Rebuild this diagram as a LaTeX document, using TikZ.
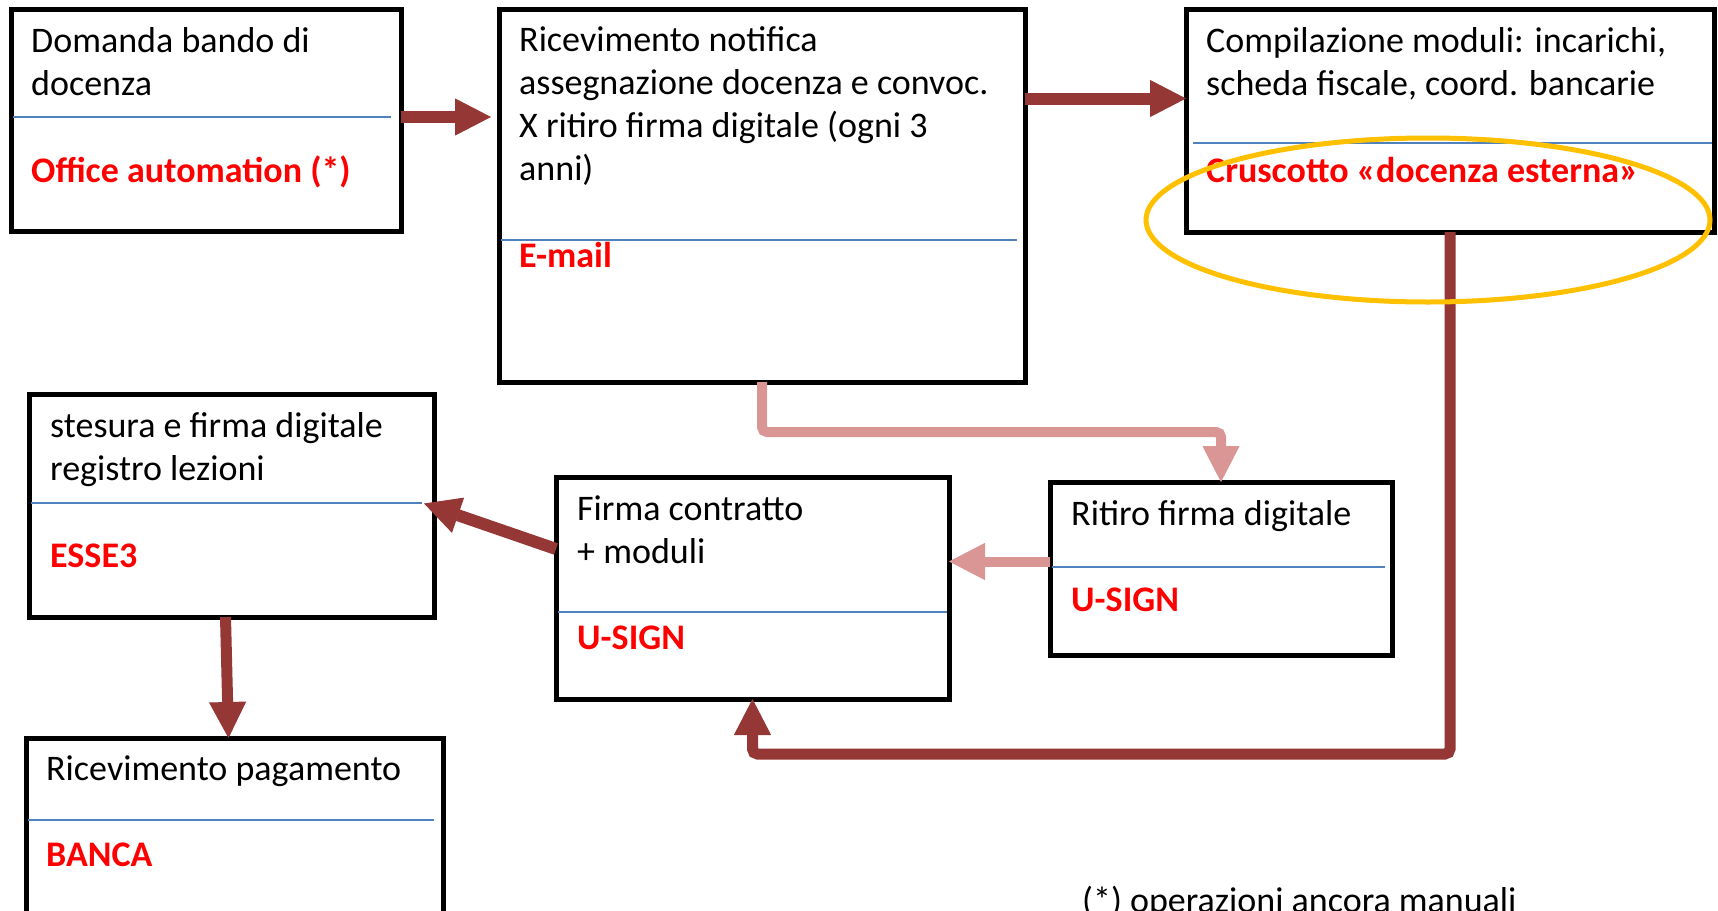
\documentclass[tikz,border=0pt]{standalone}
\usepackage{fontspec}
\setmainfont{Carlito}
\usepackage{tikz}
\usetikzlibrary{arrows.meta}

\definecolor{darkred}{RGB}{149,55,53}
\definecolor{pinkred}{RGB}{217,150,148}
\definecolor{lineblue}{RGB}{79,129,189}
\definecolor{gold}{RGB}{255,192,0}

\begin{document}
\begin{tikzpicture}[x=1pt,y=1pt,yscale=-1,
	box/.style={draw=black,line width=5pt,anchor=north west,inner sep=0pt,outer sep=0pt},
	divider/.style={draw=lineblue,line width=2pt},
	txt/.style={anchor=base west,inner sep=0pt,align=left,font=\fontsize{36}{43}\selectfont},
	tool/.style={txt,text=red,font=\fontsize{36}{43}\selectfont\bfseries},
	fatarrow/.style={draw=darkred,line width=12pt,-{Triangle[length=36pt,width=37pt,line width=1pt]}},
	thinarrow/.style={draw=darkred,line width=11pt,rounded corners=5pt,-{Triangle[length=36pt,width=37pt,line width=1pt]}},
	pinkarrow/.style={draw=pinkred,line width=10pt,rounded corners=5pt,-{Triangle[length=36pt,width=37pt,line width=1pt]}}]
		\useasboundingbox (0,0) rectangle (1718,910);
		\fill[white] (0,0) rectangle (1718,910);

		%Shape: Rectangle
		\node[box,minimum width=390pt,minimum height=222pt] (domanda) at (11,9) {};
		%Shape: Rectangle
		\node[box,minimum width=526pt,minimum height=373pt] (notifica) at (499,9) {};
		%Shape: Rectangle
		\node[box,minimum width=528pt,minimum height=223pt] (moduli) at (1186,9) {};
		%Shape: Rectangle
		\node[box,minimum width=405pt,minimum height=223pt] (registro) at (29,394) {};
		%Shape: Rectangle
		\node[box,minimum width=393pt,minimum height=222pt] (contratto) at (556,477) {};
		%Shape: Rectangle
		\node[box,minimum width=342pt,minimum height=173pt] (ritiro) at (1050,482) {};
		%Shape: Rectangle
		\node[box,minimum width=417pt,minimum height=200pt] (pagamento) at (26,738) {};

		%Straight Lines
		\draw[divider] (13,117) -- (391,117);
		\draw[divider] (501,240) -- (1017,240);
		\draw[divider] (1193,143) -- (1712,143);
		\draw[divider] (31,503) -- (422,503);
		\draw[divider] (558,612) -- (947,612);
		\draw[divider] (1052,567) -- (1385,567);
		\draw[divider] (28,820) -- (434,820);

		% Text Node
		\node[txt] (domandaTxt) at (31,95) {Domanda bando di\\docenza};
		\node[tool] (domandaTool) at (31,182) {Office automation (*)};
		% Text Node
		\node[txt] (notificaTxt) at (519,180) {Ricevimento notifica\\assegnazione docenza e convoc.\\X ritiro firma digitale (ogni 3\\anni)};
		\node[tool] (notificaTool) at (519,267) {E-mail};
		% Text Node
		\node[txt] (moduliTxt) at (1206,95) {Compilazione moduli: incarichi,\\scheda fiscale, coord. bancarie};
		\node[tool] (moduliTool) at (1206,182) {Cruscotto «docenza esterna»};
		% Text Node
		\node[txt] (registroTxt) at (50,480) {stesura e firma digitale\\registro lezioni};
		\node[tool] (registroTool) at (50,567) {ESSE3};
		% Text Node
		\node[txt] (contrattoTxt) at (577,563) {Firma contratto\\+ moduli};
		\node[tool] (contrattoTool) at (577,649) {U-SIGN};
		% Text Node
		\node[txt] (ritiroTxt) at (1071,525) {Ritiro firma digitale};
		\node[tool] (ritiroTool) at (1071,611) {U-SIGN};
		% Text Node
		\node[txt] (pagamentoTxt) at (46,780) {Ricevimento pagamento};
		\node[tool] (pagamentoTool) at (46,866) {BANCA};
		% Text Node
		\node[txt] (nota) at (1082,912) {(*) operazioni ancora manuali};

		%Connectors
		\coordinate (aOut) at ([yshift=-3pt]domanda.east);
		\draw[fatarrow,shorten >=8pt] (aOut) -- (aOut -| notifica.west);
		\coordinate (cIn) at ([yshift=-22pt]moduli.west);
		\draw[fatarrow] (cIn -| notifica.east) -- (cIn);
		\coordinate (lowBend) at (1000,754);
		\draw[thinarrow] (moduli.south) |- (lowBend) -| (contratto.south);
		\coordinate (pinkBend) at (1000,432);
		\draw[pinkarrow] (notifica.south) |- (pinkBend) -| (ritiro.north);
		\coordinate (hOut) at ([yshift=-7pt]ritiro.west);
		\draw[pinkarrow] (hOut) -- (hOut -| contratto.east);
		\coordinate (fOut) at ([yshift=-39pt]contratto.west);
		\coordinate (eIn) at ([xshift=-10pt,yshift=-2pt]registro.east);
		\draw[fatarrow] (fOut) -- (eIn);
		\draw[thinarrow] ([xshift=-6pt]registro.south) -- ([xshift=-6pt]pagamento.north);

		%Shape: Ellipse
		\draw[gold,line width=5pt] (1428,220) ellipse [x radius=282,y radius=82];
\end{tikzpicture}
\end{document}
